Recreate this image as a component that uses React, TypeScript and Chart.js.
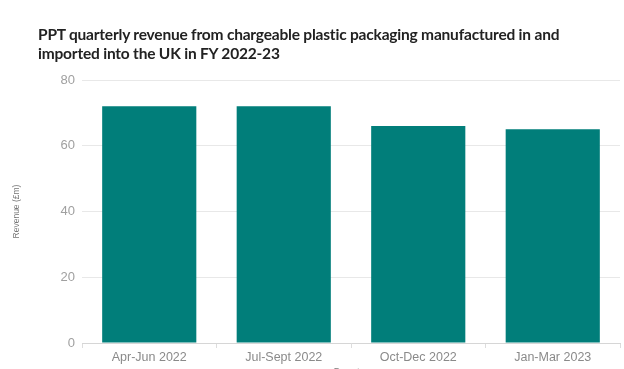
import React, { useEffect, useRef } from "react";
import { Chart, registerables } from "chart.js";

Chart.register(...registerables);

const titleLines = [
  "PPT quarterly revenue from chargeable plastic packaging manufactured in and",
  "imported into the UK in FY 2022-23",
];
const quarters = ["Apr-Jun 2022", "Jul-Sept 2022", "Oct-Dec 2022", "Jan-Mar 2023"];
const revenue = [72, 72, 66, 65];
const yTitle = "Revenue (£m)";
const xTitle = "Quarter";

export default function App() {
  const ref = useRef<HTMLCanvasElement | null>(null);

  useEffect(() => {
    document.body.style.margin = "0";
    const canvas = ref.current;
    if (!canvas) return;
    const chart = new Chart(canvas, {
      type: "bar",
      data: {
        labels: quarters,
        datasets: [
          {
            data: revenue,
            backgroundColor: "#017E7A",
            borderWidth: 0,
            barPercentage: 0.7,
            categoryPercentage: 1,
          },
        ],
      },
      options: {
        animation: false,
        responsive: false,
        maintainAspectRatio: false,
        layout: { padding: { top: 80, left: 0, right: 4, bottom: 0 } },
        plugins: {
          legend: { display: false },
          tooltip: { enabled: false },
          title: { display: false },
        },
        scales: {
          x: {
            afterFit: (s: any) => {
              s.height = 37;
            },
            grid: {
              drawOnChartArea: false,
              drawTicks: true,
              tickLength: 5,
              color: "#dddddd",
            },
            border: { display: true, color: "#d6d6d6" },
            ticks: {
              color: "#8a8a8a",
              padding: 2,
              font: { family: "'Liberation Sans', Arial, sans-serif", size: 12.5 },
            },
            title: {
              display: true,
              text: xTitle,
              color: "#777777",
              padding: { top: 0, bottom: 0 },
              font: { family: "'Liberation Sans', Arial, sans-serif", size: 11 },
            },
          },
          y: {
            min: 0,
            max: 80,
            afterFit: (s: any) => {
              s.width = 82;
            },
            ticks: {
              stepSize: 20,
              color: "#a0a0a0",
              padding: 7,
              font: { family: "'Liberation Sans', Arial, sans-serif", size: 13 },
            },
            grid: {
              drawTicks: false,
              color: "#e8e8e8",
            },
            border: { display: false },
            title: {
              display: true,
              text: yTitle,
              color: "#777777",
              padding: { top: 12, bottom: 0 },
              font: { family: "'Liberation Sans', Arial, sans-serif", size: 8.5 },
            },
          },
        },
      },
    });
    return () => chart.destroy();
  }, []);

  return (
    <div style={{ position: "fixed", left: 0, top: 0, width: 624, height: 380 }}>
      <canvas ref={ref} width={624} height={380} style={{ position: "absolute", left: 0, top: 0 }} />
      <div
        style={{
          position: "absolute",
          left: 38,
          top: 25,
          fontFamily: "Lato, 'Noto Sans', sans-serif",
          fontWeight: 700,
          fontSize: 15.5,
          letterSpacing: "-0.2px",
          lineHeight: "19px",
          color: "#222222",
          whiteSpace: "nowrap",
        }}
      >
        {titleLines[0]}
        <br />
        {titleLines[1]}
      </div>
    </div>
  );
}
